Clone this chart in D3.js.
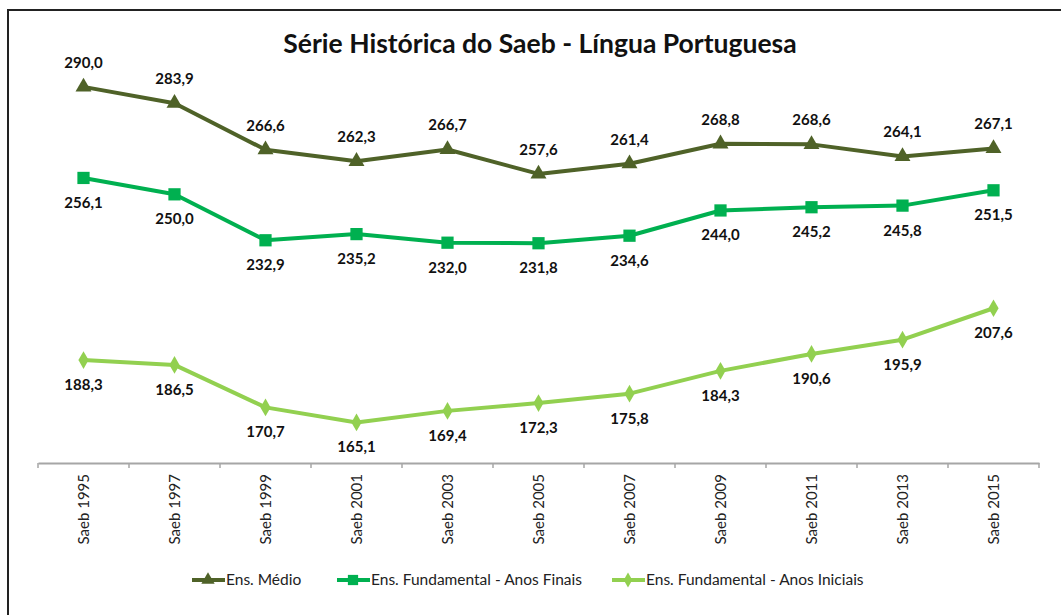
<!DOCTYPE html>
<html>
<head>
<meta charset="utf-8">
<script src="https://cdn.jsdelivr.net/npm/d3@7"></script>
<style>
  body { margin: 0; background: #fff; }
  text { font-family: Lato, "Open Sans", sans-serif; }
</style>
</head>
<body>
<div id="plot"></div>
<script>
var width = 1061;
var height = 615;

var categories = ['Saeb 1995', 'Saeb 1997', 'Saeb 1999', 'Saeb 2001', 'Saeb 2003', 'Saeb 2005',
                  'Saeb 2007', 'Saeb 2009', 'Saeb 2011', 'Saeb 2013', 'Saeb 2015'];
var medio = [290.0, 283.9, 266.6, 262.3, 266.7, 257.6, 261.4, 268.8, 268.6, 264.1, 267.1];
var finais = [256.1, 250.0, 232.9, 235.2, 232.0, 231.8, 234.6, 244.0, 245.2, 245.8, 251.5];
var iniciais = [188.3, 186.5, 170.7, 165.1, 169.4, 172.3, 175.8, 184.3, 190.6, 195.9, 207.6];
var series_names = ['Ens. Médio', 'Ens. Fundamental - Anos Finais', 'Ens. Fundamental - Anos Iniciais'];

var series = [
    { name: series_names[0], values: medio, color: '#4f6228', symbol: d3.symbolTriangle, size: 110, label: 'above' },
    { name: series_names[1], values: finais, color: '#00b050', symbol: d3.symbolSquare, size: 150, label: 'below' },
    { name: series_names[2], values: iniciais, color: '#92d050', symbol: d3.symbolDiamond, size: 90, label: 'below' }
];

var canvas = d3.select('#plot')
    .append('svg')
    .attr('width', width)
    .attr('height', height);

// outer frame
canvas.append('rect')
    .attr('x', 8).attr('y', 10)
    .attr('width', 1070).attr('height', 620)
    .attr('fill', 'white')
    .attr('stroke', '#222')
    .attr('stroke-width', 2);

canvas.append('text')
    .attr('x', 540)
    .attr('y', 53)
    .attr('text-anchor', 'middle')
    .attr('font-size', 26.5)
    .attr('font-weight', 'bold')
    .attr('fill', '#111')
    .text('Série Histórica do Saeb - Língua Portuguesa');

var x_scale = d3.scaleBand()
    .domain(categories)
    .range([38, 1039]);

var y_scale = d3.scaleLinear()
    .domain([150, 300])
    .range([463, 60]);

var x_axis = d3.axisBottom(x_scale)
    .tickSize(0);

var gx = canvas.append('g')
    .attr('class', 'x-axis')
    .attr('transform', 'translate(0,463)')
    .call(x_axis);

gx.select('.domain').attr('stroke', '#a6a6a6').attr('stroke-width', 2);
gx.selectAll('.tick text')
    .attr('font-size', 15)
    .attr('fill', '#222')
    .attr('text-anchor', 'end')
    .attr('transform', 'rotate(-90)')
    .attr('x', -11)
    .attr('y', 0)
    .attr('dy', '0.35em');

// boundary ticks between categories
var bounds = d3.range(categories.length + 1);
canvas.selectAll('line.cat-tick')
    .data(bounds)
    .enter()
    .append('line')
    .attr('class', 'cat-tick')
    .attr('x1', function(d) { return 38 + d * x_scale.step(); })
    .attr('x2', function(d) { return 38 + d * x_scale.step(); })
    .attr('y1', 463)
    .attr('y2', 468)
    .attr('stroke', '#a6a6a6')
    .attr('stroke-width', 1.5);

function cx(i) { return x_scale(categories[i]) + x_scale.bandwidth() / 2; }

var line_gen = d3.line()
    .x(function(d, i) { return cx(i); })
    .y(function(d) { return y_scale(d); });

var fmt = function(v) { return v.toFixed(1).replace('.', ','); };

series.forEach(function(s) {
    canvas.append('path')
        .datum(s.values)
        .attr('d', line_gen)
        .attr('fill', 'none')
        .attr('stroke', s.color)
        .attr('stroke-width', 4)
        .attr('stroke-linejoin', 'round');

    canvas.selectAll(null)
        .data(s.values)
        .enter()
        .append('path')
        .attr('d', d3.symbol().type(s.symbol).size(s.size))
        .attr('transform', function(d, i) { return 'translate(' + cx(i) + ',' + y_scale(d) + ')'; })
        .attr('fill', s.color);

    canvas.selectAll(null)
        .data(s.values)
        .enter()
        .append('text')
        .attr('x', function(d, i) { return cx(i); })
        .attr('y', function(d) { return y_scale(d) + (s.label === 'above' ? -19 : 30); })
        .attr('text-anchor', 'middle')
        .attr('font-size', 15)
        .attr('font-weight', 'bold')
        .attr('fill', '#111')
        .text(fmt);
});

// legend
var legend_x = [192, 337, 612];
var legend = canvas.selectAll('g.legend')
    .data(series)
    .enter()
    .append('g')
    .attr('class', 'legend')
    .attr('transform', function(d, i) { return 'translate(' + legend_x[i] + ',580)'; });

legend.append('line')
    .attr('x1', 0).attr('x2', 33)
    .attr('stroke', function(d) { return d.color; })
    .attr('stroke-width', 4);

legend.append('path')
    .attr('d', function(d) { return d3.symbol().type(d.symbol).size(d.size * 0.7)(); })
    .attr('transform', 'translate(16,0)')
    .attr('fill', function(d) { return d.color; });

legend.append('text')
    .attr('x', 34)
    .attr('dy', '0.35em')
    .attr('font-size', 15.5)
    .attr('fill', '#222')
    .text(function(d) { return d.name; });
</script>
</body>
</html>
